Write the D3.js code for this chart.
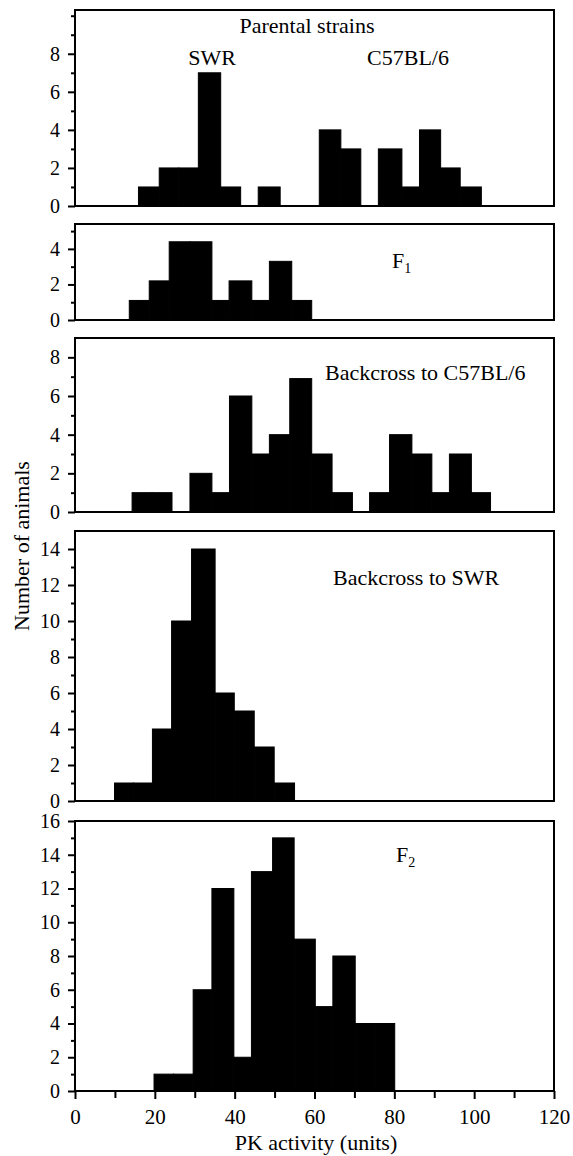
<!DOCTYPE html>
<html>
<head>
<meta charset="utf-8">
<script src="https://cdn.jsdelivr.net/npm/d3@7"></script>
<style>
  body { margin: 0; background: #fff; }
  text { font-family: "Liberation Serif", "Times New Roman", serif; fill: #000; }
</style>
</head>
<body>
<div id="chart"></div>
<script>
const WIDTH = 573;
const HEIGHT = 1156;
const LEFT = 75, RIGHT = 554;

// --------------- Data (bin edges in PK units, counts per bin) ---------------
const parentalEdges = [15.9, 21.1, 26.0, 30.9, 36.5, 41.5, 45.9, 51.4, 56.3, 61.2, 66.6, 71.6, 76.0, 81.9, 86.3, 91.6, 96.5, 101.8];
const parentalCounts = [1, 2, 2, 7, 1, 0, 1, 0, 0, 4, 3, 0, 3, 1, 4, 2, 1];

const f1Edges = [13.6, 18.6, 23.6, 28.8, 34.3, 38.6, 44.3, 48.7, 54.3, 59.3];
const f1Counts = [1.1, 2.2, 4.4, 4.4, 1.1, 2.2, 1.1, 3.3, 1.1];

const bcC57Edges = [14.3, 19.3, 24.3, 28.8, 34.3, 38.7, 44.3, 48.7, 53.8, 59.3, 64.4, 69.5, 73.8, 78.8, 84.4, 89.4, 93.8, 99.3, 104.1];
const bcC57Counts = [1, 1, 0, 2, 1, 6, 3, 4, 6.9, 3, 1, 0, 1, 4, 3, 1, 3, 1];

const bcSwrEdges = [9.9, 14.6, 19.4, 24.2, 29.2, 35.1, 39.9, 44.9, 49.9, 55.0];
const bcSwrCounts = [1, 1, 4, 10, 14, 6, 5, 3, 1];

const f2Edges = [19.8, 24.7, 29.6, 34.3, 39.8, 44.2, 49.5, 54.9, 60.2, 64.6, 70.2, 75.1, 80.1];
const f2Counts = [1, 1, 6, 12, 2, 13, 15, 9, 5, 8, 4, 4];

const xMajorTicks = [0, 20, 40, 60, 80, 100, 120];
const xMinorTicks = [10, 30, 50, 70, 90, 110];

const yTicksParental = [0, 2, 4, 6, 8];
const yTicksF1 = [0, 2, 4];
const yTicksBcC57 = [0, 2, 4, 6, 8];
const yTicksBcSwr = [0, 2, 4, 6, 8, 10, 12, 14];
const yTicksF2 = [0, 2, 4, 6, 8, 10, 12, 14, 16];

// --------------- Panels ---------------
const panels = [
  { edges: parentalEdges, counts: parentalCounts, ticks: yTicksParental, yMax: 10.3, top: 10, bottom: 206 },
  { edges: f1Edges, counts: f1Counts, ticks: yTicksF1, yMax: 5.4, top: 224, bottom: 320 },
  { edges: bcC57Edges, counts: bcC57Counts, ticks: yTicksBcC57, yMax: 9.0, top: 338, bottom: 512 },
  { edges: bcSwrEdges, counts: bcSwrCounts, ticks: yTicksBcSwr, yMax: 15.0, top: 531, bottom: 801 },
  { edges: f2Edges, counts: f2Counts, ticks: yTicksF2, yMax: 16, top: 821, bottom: 1091 }
];

const svg = d3.select("#chart").append("svg")
  .attr("width", WIDTH)
  .attr("height", HEIGHT);

const x = d3.scaleLinear().domain([0, 120]).range([LEFT, RIGHT]);

panels.forEach(function (p, i) {
  const y = d3.scaleLinear().domain([0, p.yMax]).range([p.bottom, p.top]);
  const g = svg.append("g");

  // bars (a thin stroke closes the seams between neighbours)
  const bins = p.counts.map(function (c, j) {
    return { x0: p.edges[j], x1: p.edges[j + 1], count: c };
  }).filter(function (d) { return d.count > 0; });

  g.selectAll("rect.bar")
    .data(bins)
    .enter()
    .append("rect")
    .attr("class", "bar")
    .attr("x", d => x(d.x0))
    .attr("width", d => x(d.x1) - x(d.x0))
    .attr("y", d => y(d.count))
    .attr("height", d => y(0) - y(d.count))
    .attr("fill", "#000")
    .attr("stroke", "#000")
    .attr("stroke-width", 1);

  // frame
  g.append("rect")
    .attr("x", LEFT)
    .attr("y", p.top)
    .attr("width", RIGHT - LEFT)
    .attr("height", p.bottom - p.top)
    .attr("fill", "none")
    .attr("stroke", "#000")
    .attr("stroke-width", 2);

  // y axis, major ticks with labels
  const yAxis = d3.axisLeft(y)
    .tickValues(p.ticks)
    .tickFormat(d3.format("d"))
    .tickSize(7)
    .tickPadding(8)
    .tickSizeOuter(0);
  const gy = g.append("g")
    .attr("transform", `translate(${LEFT},0)`)
    .call(yAxis);
  gy.select(".domain").remove();
  gy.selectAll("line").attr("stroke-width", 2);
  gy.selectAll("text").style("font-size", "20px").attr("font-family", null);

  // y axis, minor ticks
  const minors = d3.range(1, Math.floor(p.yMax) + 1).filter(v => p.ticks.indexOf(v) < 0 && y(v) > p.top + 2);
  const gym = g.append("g")
    .attr("transform", `translate(${LEFT},0)`)
    .call(d3.axisLeft(y).tickValues(minors).tickSize(4).tickFormat("").tickSizeOuter(0));
  gym.select(".domain").remove();
  gym.selectAll("line").attr("stroke-width", 2);

  // x axis only on the bottom panel
  if (i === panels.length - 1) {
    const gx = g.append("g")
      .attr("transform", `translate(0,${p.bottom})`)
      .call(d3.axisBottom(x).tickValues(xMajorTicks).tickSize(8).tickPadding(10).tickSizeOuter(0));
    gx.select(".domain").remove();
    gx.selectAll("line").attr("stroke-width", 2);
    gx.selectAll("text").style("font-size", "21px").attr("font-family", null);

    const gxm = g.append("g")
      .attr("transform", `translate(0,${p.bottom})`)
      .call(d3.axisBottom(x).tickValues(xMinorTicks).tickSize(7).tickFormat("").tickSizeOuter(0));
    gxm.select(".domain").remove();
    gxm.selectAll("line").attr("stroke-width", 2);
  }
});

// --------------- Labels ---------------
function label(txt, xp, yp, anchor) {
  return svg.append("text")
    .attr("x", xp)
    .attr("y", yp)
    .attr("text-anchor", anchor || "start")
    .style("font-size", "22px")
    .text(txt);
}

label("Parental strains", 307, 33, "middle");
label("SWR", 212, 65, "middle");
label("C57BL/6", 408, 65, "middle");

const f1 = label("F", 392, 268);
f1.append("tspan").attr("dy", 5).style("font-size", "14px").text("1");

label("Backcross to C57BL/6", 325, 380);
label("Backcross to SWR", 333, 585);

const f2 = label("F", 396, 862);
f2.append("tspan").attr("dy", 5).style("font-size", "14px").text("2");

// axis titles
label("PK activity (units)", 316, 1150, "middle");
svg.append("text")
  .attr("transform", "translate(29,546) rotate(-90)")
  .attr("text-anchor", "middle")
  .style("font-size", "22px")
  .text("Number of animals");
</script>
</body>
</html>
